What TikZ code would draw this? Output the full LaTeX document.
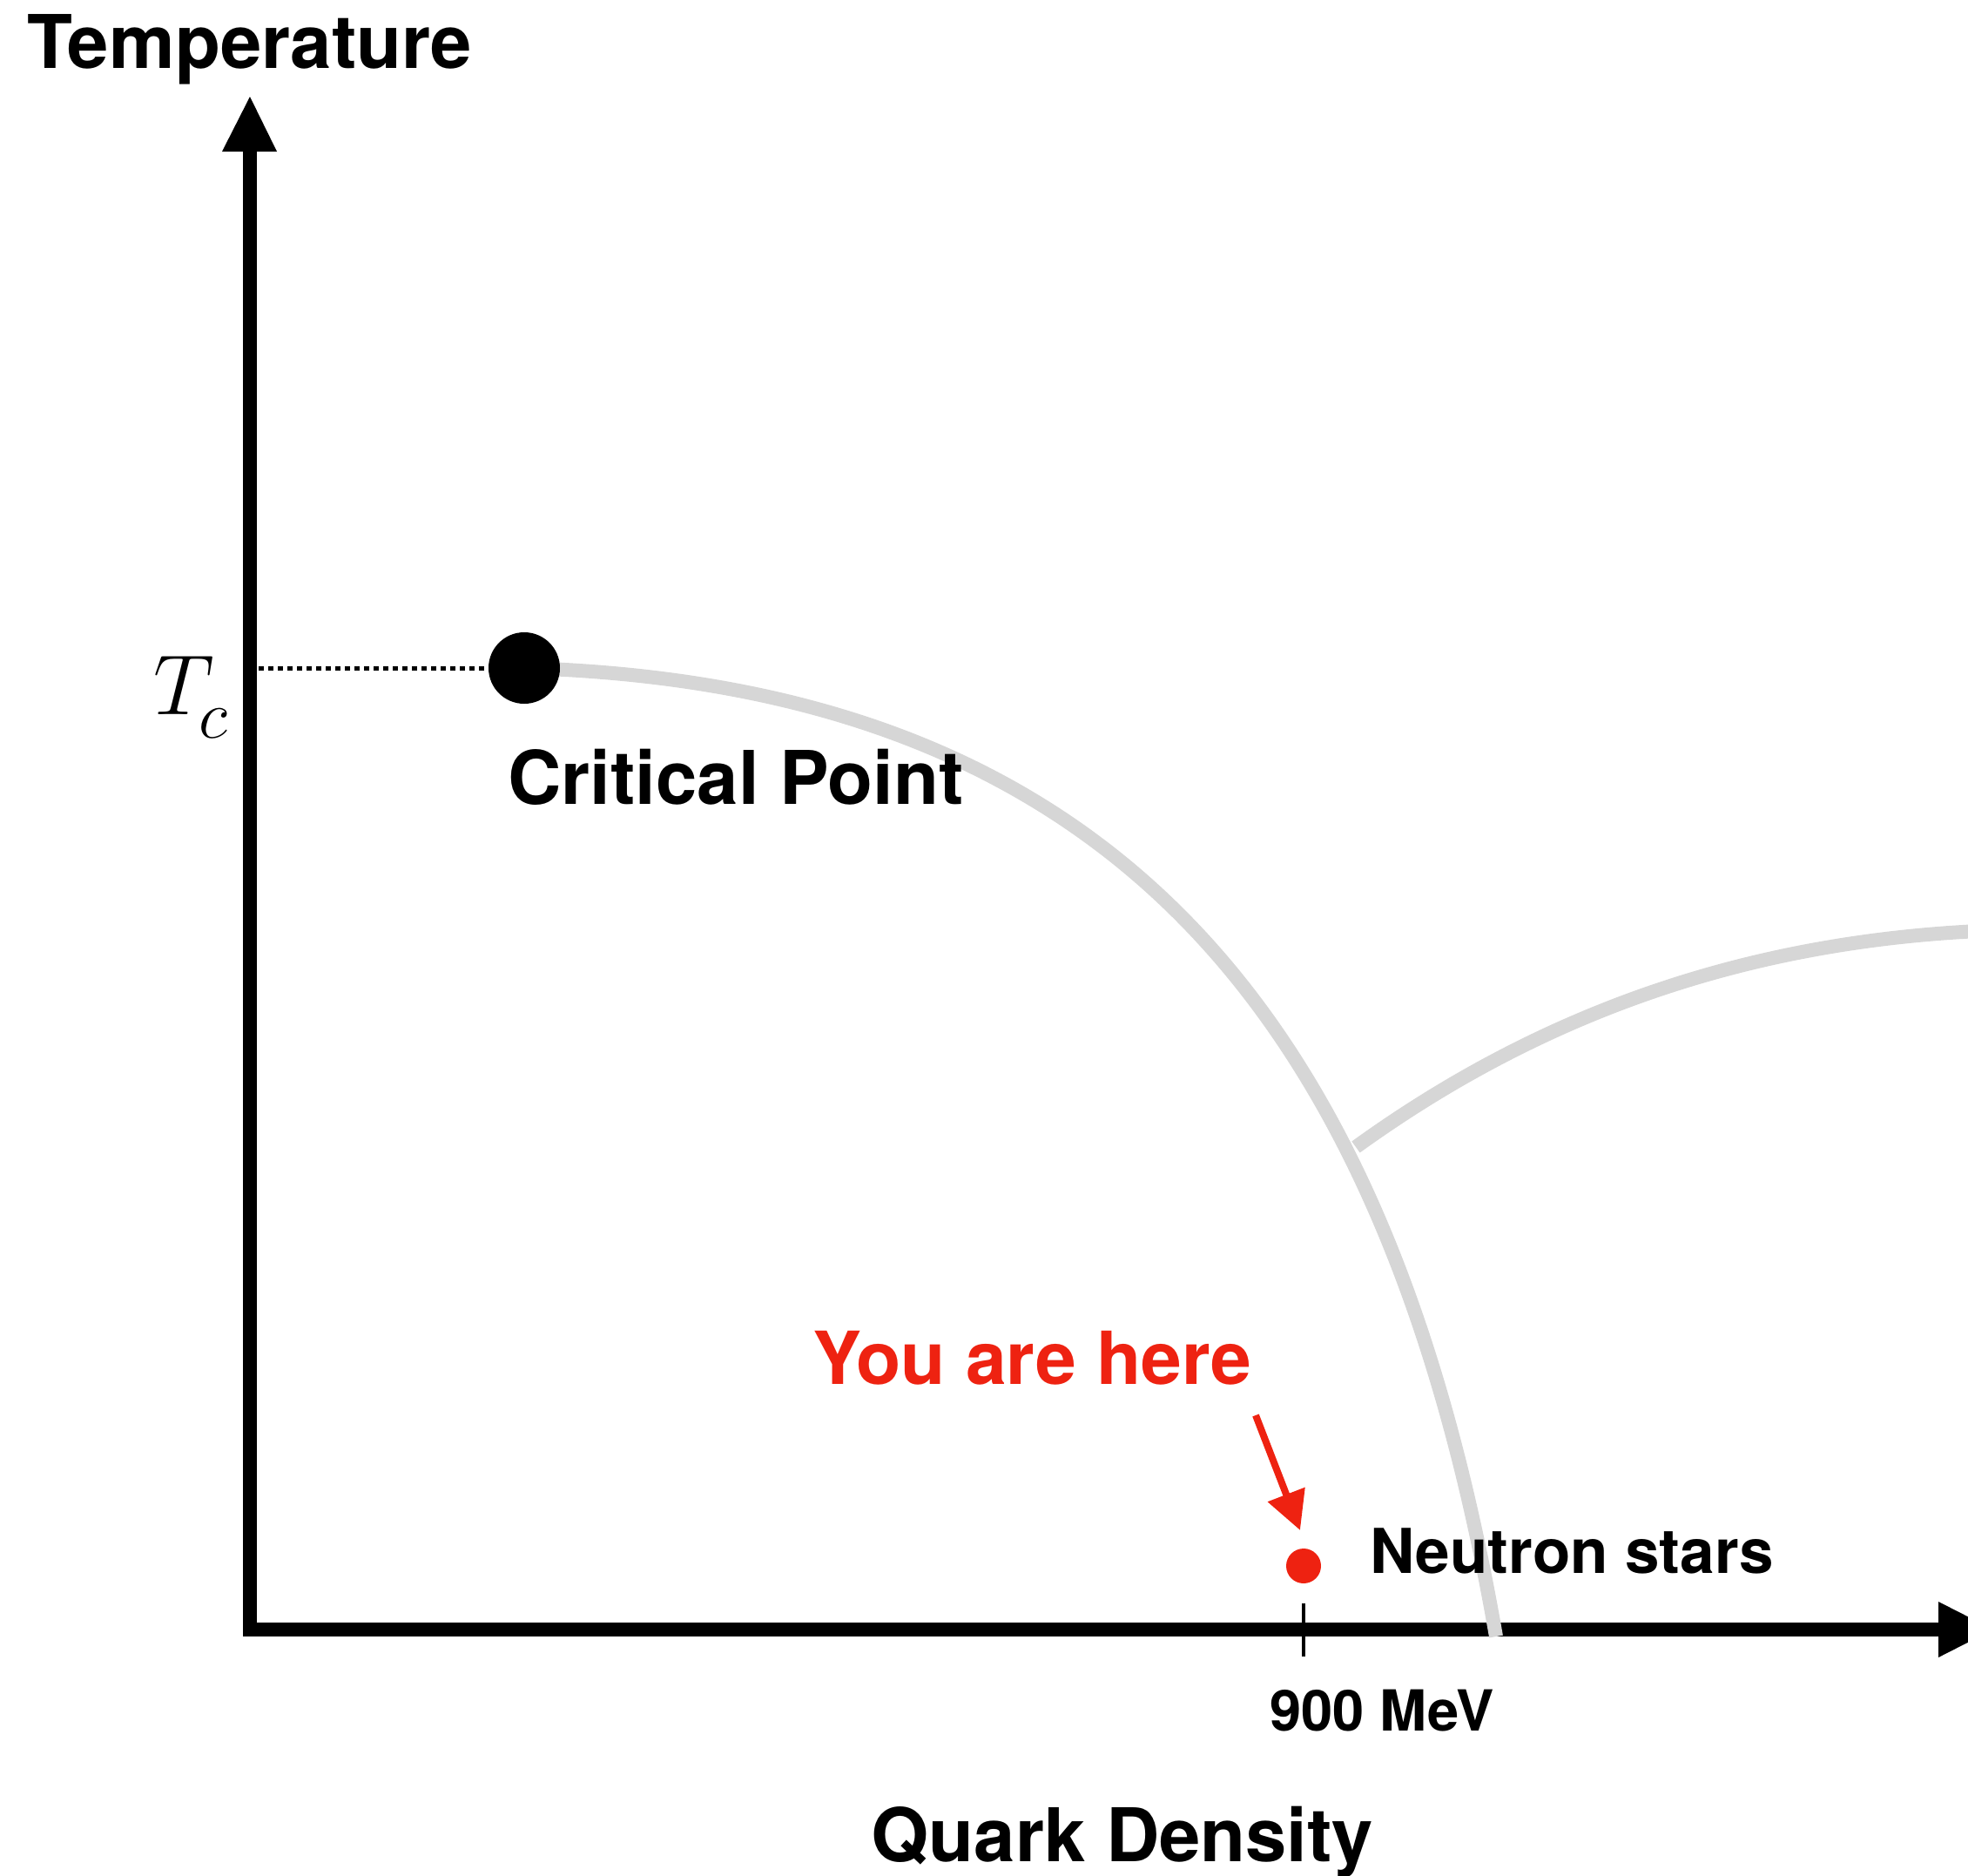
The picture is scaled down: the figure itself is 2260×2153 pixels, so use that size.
\documentclass[tikz,border=0pt]{standalone}
\usepackage{fontspec}
\setmainfont{TeX Gyre Heros}
\usetikzlibrary{arrows.meta}
\definecolor{curvegray}{RGB}{214,214,214}
\definecolor{hereRed}{RGB}{238,34,17}
\tikzset{
  lbl/.style={inner sep=0pt, anchor=base, font=\bfseries\fontsize{85}{100}\selectfont},
  axisline/.style={line width=16pt, line join=miter},
  phase/.style={draw=curvegray, line width=16pt},
  mathlbl/.style={inner sep=0pt, anchor=base west, font=\fontsize{24.88}{30}\selectfont},
}
\begin{document}
\begin{tikzpicture}[x=1pt,y=-1pt]
\useasboundingbox (0,0) rectangle (2260,2153);
% axes
\coordinate (ytip) at (287,111);
\coordinate (xtip) at (2289,1871);
\coordinate (origin) at (287,1871);
\draw[axisline] (287,170) -- (origin) -- (2230,1871);
\fill (255,174) -- (318,174) -- (ytip) -- cycle;
\fill (2226,1839) -- (2226,1903) -- (xtip) -- cycle;
% phase boundaries
\coordinate (cpc) at (602,767);
\coordinate (junc) at (1557,1317);
\coordinate (cend) at (1718,1879);
\coordinate (rend) at (2272,1069);
\draw[phase] (cpc) .. controls (1282,787) and (1595,1170) .. (cend);
\draw[phase] (junc) .. controls (1802,1140) and (2047,1080) .. (rend);
% critical point
\node[circle, fill=black, minimum size=82pt, inner sep=0pt] (cp) at (cpc) {};
\coordinate (tcaxis) at (297,767);
\draw[line width=5pt, dash pattern=on 6pt off 5pt] (tcaxis) -- (cp.west);
% T_c
\node[mathlbl, scale=3.94] (tcT) at (176,820) {$T$};
\node[mathlbl, scale=3.13] (tcc) at (228,847) {$c$};
% labels
\node[lbl] (temp) at (287,78) {Temperature};
\node[lbl] (crit) at (845,923) {Critical Point};
\node[lbl] (qd) at (1289,2137) {Quark Density};
\node[lbl, text=hereRed, font=\bfseries\fontsize{84}{100}\selectfont] (here) at (1185,1589) {You are here};
\node[inner sep=0pt, anchor=base west, font=\bfseries\fontsize{71}{85}\selectfont] (nslbl) at (1573,1806) {Neutron stars};
\node[lbl, font=\bfseries\fontsize{65}{78}\selectfont] (mev) at (1587,1987) {900 MeV};
% tick
\coordinate (ticktop) at (1497,1841);
\coordinate (tickbot) at (1497,1902);
\draw[line width=4pt] (ticktop) -- (tickbot);
% neutron stars marker
\node[circle, fill=hereRed, minimum size=40pt, inner sep=0pt] (ns) at (1497,1798) {};
\coordinate (arrs) at (1442,1625);
\coordinate (arre) at (1493,1757);
\draw[hereRed, line width=8pt, -{Triangle[length=44pt,width=44pt]}] (arrs) -- (arre);
\end{tikzpicture}
\end{document}
